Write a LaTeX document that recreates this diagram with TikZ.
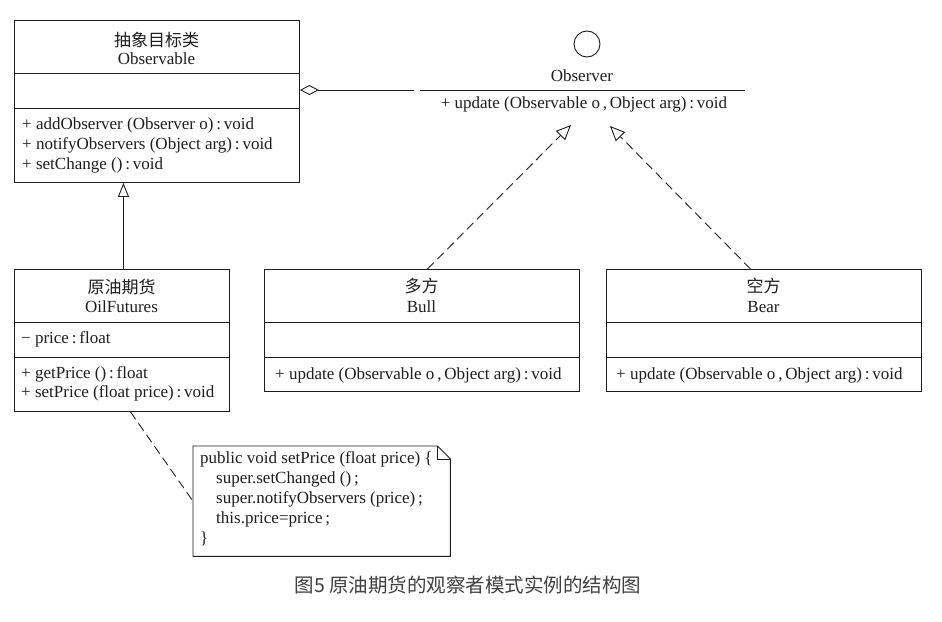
\documentclass[tikz,border=0pt]{standalone}
\usepackage{fontspec}
\setmainfont{Liberation Serif}
\newfontfamily\cjk{Noto Sans CJK SC}
\usetikzlibrary{arrows.meta}
\definecolor{ink}{HTML}{1E1E1E}
\definecolor{captc}{HTML}{404040}
\begin{document}
\begin{tikzpicture}[x=1pt,y=-1pt,
  umlbox/.style={draw=ink, line width=0.9pt, inner sep=0, anchor=north west},
  divl/.style={draw=ink, line width=0.9pt},
  ctxt/.style={font=\fontsize{17}{20}\selectfont, text=ink, inner sep=0, anchor=center},
  ltxt/.style={font=\fontsize{17}{20}\selectfont, text=ink, inner sep=0, anchor=west},
  cjkt/.style={font=\cjk\fontsize{17}{20}\selectfont, text=ink, inner sep=0, anchor=center},
  inherit/.style={draw=ink, line width=0.9pt, -{Triangle[open, length=14pt, width=11pt]}},
  realize/.style={draw=ink, line width=0.9pt, dash pattern=on 9pt off 5pt, -{Triangle[open, length=15pt, width=13pt]}},
  aggr/.style={draw=ink, line width=0.9pt, {Diamond[open, length=19pt, width=10pt]}-},
  notelink/.style={draw=ink, line width=0.9pt, dash pattern=on 9pt off 5pt}
]
\useasboundingbox (0,0) rectangle (942,621);
\fill[white] (0,0) rectangle (942,621);

% Observable
\node[umlbox, minimum width=285, minimum height=162] (obs) at (14,20) {};
\draw[divl] (14,73) -- (299,73);
\draw[divl] (14,108) -- (299,108);
\node[cjkt] (obsT1) at (156.5,40) {抽象目标类};
\node[ctxt] (obsT2) at (156.5,59) {Observable};
\node[ltxt] (obsM1) at (22,125) {+ addObserver (Observer o)\,:\,void};
\node[ltxt] (obsM2) at (22,145) {+ notifyObservers (Object arg)\,:\,void};
\node[ltxt] (obsM3) at (22,165) {+ setChange ()\,:\,void};

% Observer interface (lollipop)
\node[draw=ink, line width=0.9pt, circle, minimum size=26, inner sep=0] (circ) at (587,44) {};
\node[ctxt] (obsvrT) at (582,76) {Observer};
\coordinate (obsvrL) at (420,90);
\coordinate (obsvrR) at (745,90);
\draw[divl] (obsvrL) -- (obsvrR);
\node[ctxt] (obsvrM) at (584,104) {+ update (Observable o\,,\,Object arg)\,:\,void};
\coordinate (aggEnd) at (414,90);
\draw[aggr] (obs.east |- aggEnd) -- (aggEnd);

% OilFutures
\node[umlbox, minimum width=215, minimum height=142] (oil) at (14,269) {};
\draw[divl] (14,322) -- (229,322);
\draw[divl] (14,357) -- (229,357);
\node[cjkt] (oilT1) at (121.5,287) {原油期货};
\node[ctxt] (oilT2) at (121.5,307) {OilFutures};
\node[ltxt] (oilA1) at (21,339) {\textminus\ price\,:\,float};
\node[ltxt] (oilM1) at (21,374) {+ getPrice ()\,:\,float};
\node[ltxt] (oilM2) at (21,393) {+ setPrice (float price)\,:\,void};
\draw[inherit] ([xshift=1.5pt]oil.north) -- ([xshift=1.5pt]oil.north |- obs.south);

% Bull
\node[umlbox, minimum width=315, minimum height=122] (bull) at (264,269) {};
\draw[divl] (264,322) -- (579,322);
\draw[divl] (264,357) -- (579,357);
\node[cjkt] (bullT1) at (421.5,286) {多方};
\node[ctxt] (bullT2) at (421.5,307) {Bull};
\node[ltxt] (bullM) at (275,375) {+ update (Observable o\,,\,Object arg)\,:\,void};

% Bear
\node[umlbox, minimum width=315, minimum height=122] (bear) at (606,269) {};
\draw[divl] (606,322) -- (921,322);
\draw[divl] (606,357) -- (921,357);
\node[cjkt] (bearT1) at (763.5,286) {空方};
\node[ctxt] (bearT2) at (763.5,307) {Bear};
\node[ltxt] (bearM) at (616,375) {+ update (Observable o\,,\,Object arg)\,:\,void};

\coordinate (tipL) at (571,125);
\coordinate (tipR) at (610,126);
\draw[realize] ([xshift=5.5pt]bull.north) -- (tipL);
\draw[realize] ([xshift=-13.5pt]bear.north) -- (tipR);

% Note
\node[inner sep=0, minimum width=257, minimum height=110, anchor=north west] (note) at (193,446) {};
\draw[ink, line width=0.9pt] (note.north west) -- ([xshift=-13pt]note.north east) -- ([yshift=-13pt]note.north east) -- (note.south east) -- (note.south west) -- cycle;
\draw[ink, line width=0.9pt] ([xshift=-13pt]note.north east) -- ([xshift=-13pt,yshift=-13pt]note.north east) -- ([yshift=-13pt]note.north east);
\node[ltxt] (n1) at (200,459) {public void setPrice (float price) \{};
\node[ltxt] (n2) at (216,479) {super.setChanged ()\,;};
\node[ltxt] (n3) at (216,499) {super.notifyObservers (price)\,;};
\node[ltxt] (n4) at (216,519) {this.price=price\,;};
\node[ltxt] (n5) at (200,539) {\}};
\draw[notelink] ([xshift=8.5pt]oil.south) -- (note.west);

% Caption
\node[font=\cjk\fontsize{19.5}{22}\selectfont, text=captc, inner sep=0] (cap) at (468,585) {图5 原油期货的观察者模式实例的结构图};
\end{tikzpicture}
\end{document}
